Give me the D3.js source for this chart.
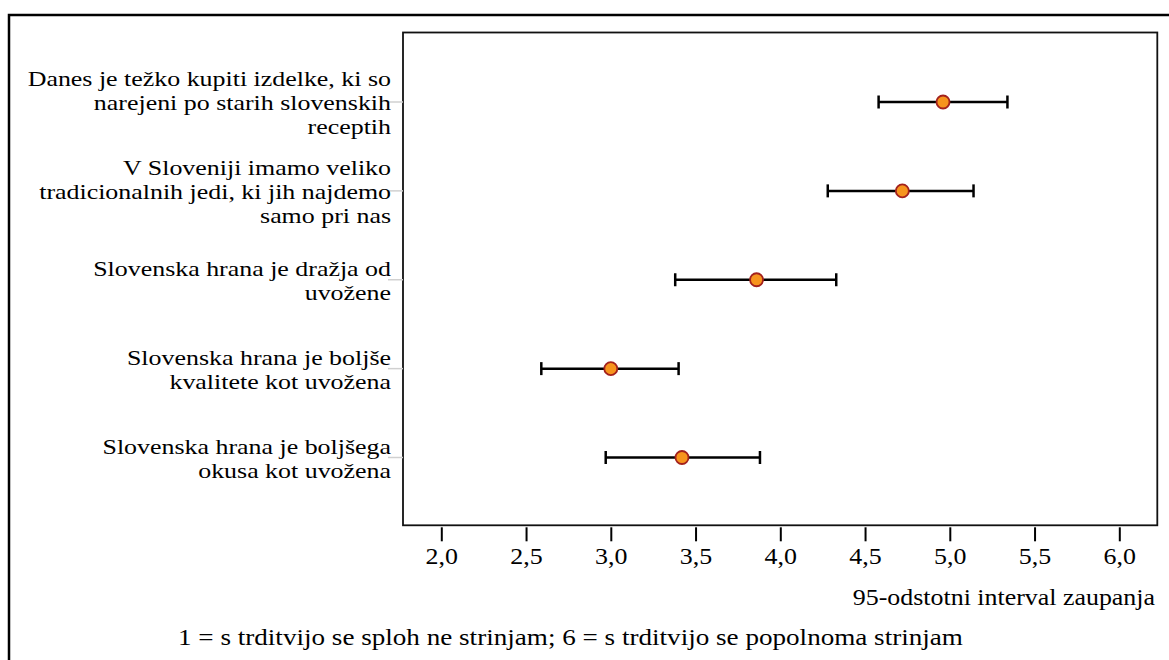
<!DOCTYPE html>
<html>
<head>
<meta charset="utf-8">
<script src="https://cdn.jsdelivr.net/npm/d3@7"></script>
<style>
  html, body { margin: 0; padding: 0; background: #fff; }
  svg { display: block; }
  text { font-family: "Liberation Serif", "Times New Roman", serif; fill: #000; }
</style>
</head>
<body>
<svg id="chart" width="1169" height="660"></svg>
<script>
// ---- data ----
const categories = [
  "Danes je težko kupiti izdelke, ki so narejeni po starih slovenskih receptih",
  "V Sloveniji imamo veliko tradicionalnih jedi, ki jih najdemo samo pri nas",
  "Slovenska hrana je dražja od uvožene",
  "Slovenska hrana je boljše kvalitete kot uvožena",
  "Slovenska hrana je boljšega okusa kot uvožena"
];
const labelLines = [
  ["Danes je težko kupiti izdelke, ki so", "narejeni po starih slovenskih", "receptih"],
  ["V Sloveniji imamo veliko", "tradicionalnih jedi, ki jih najdemo", "samo pri nas"],
  ["Slovenska hrana je dražja od", "uvožene"],
  ["Slovenska hrana je boljše", "kvalitete kot uvožena"],
  ["Slovenska hrana je boljšega", "okusa kot uvožena"]
];
const means = [4.96, 4.72, 3.86, 3.00, 3.42];
const lower = [4.58, 4.28, 3.38, 2.59, 2.97];
const upper = [5.34, 5.14, 4.33, 3.40, 3.88];
const tickValues = [2.0, 2.5, 3.0, 3.5, 4.0, 4.5, 5.0, 5.5, 6.0];
const tickLabels = ["2,0", "2,5", "3,0", "3,5", "4,0", "4,5", "5,0", "5,5", "6,0"];
const axisTitle = "95-odstotni interval zaupanja";
const footnote = "1 = s trditvijo se sploh ne strinjam; 6 = s trditvijo se popolnoma strinjam";

// ---- layout ----
const svg = d3.select("#chart");
const frame = { left: 403, top: 32.5, right: 1157.3, bottom: 525.3 };
const FS = 24, SX = 1.08;
const LFS = 21, LSX = 1.234;

const x = d3.scaleLinear().domain([2, 6]).range([441.3, 1119.3]);
const y = d3.scalePoint().domain(categories).range([102, 457.5]);

// outer border
svg.append("rect")
  .attr("x", 9).attr("y", 15).attr("width", 1300).attr("height", 800)
  .attr("fill", "none").attr("stroke", "#000").attr("stroke-width", 2.5);

// plot frame
svg.append("rect")
  .attr("x", frame.left).attr("y", frame.top)
  .attr("width", frame.right - frame.left).attr("height", frame.bottom - frame.top)
  .attr("fill", "none").attr("stroke", "#111").attr("stroke-width", 1.8);

// category ticks (light gray)
svg.append("g").selectAll("line").data(categories).join("line")
  .attr("x1", frame.left - 15).attr("x2", frame.left)
  .attr("y1", d => y(d)).attr("y2", d => y(d))
  .attr("stroke", "#d0d0d0").attr("stroke-width", 1.5);

// category labels
const lineH = 24;
const lab = svg.append("g");
categories.forEach((c, i) => {
  const lines = labelLines[i];
  const n = lines.length;
  lines.forEach((t, j) => {
    const yy = y(c) + (j - (n - 1) / 2) * lineH + 8;
    lab.append("text")
      .attr("transform", `translate(391,${yy}) scale(${LSX},1)`)
      .attr("text-anchor", "end")
      .attr("font-size", LFS)
      .text(t);
  });
});

// x axis
const axis = d3.axisBottom(x)
  .tickValues(tickValues)
  .tickFormat((d, i) => tickLabels[i])
  .tickSize(14).tickPadding(6);
const gx = svg.append("g").attr("transform", `translate(0,${frame.bottom + 2})`).call(axis);
gx.select(".domain").remove();
gx.selectAll(".tick line").attr("stroke", "#000").attr("stroke-width", 2);
gx.selectAll(".tick text")
  .attr("font-family", "Liberation Serif, serif")
  .attr("font-size", FS)
  .attr("y", 37).attr("dy", null)
  .attr("transform", `scale(${SX},1)`);

// axis title
svg.append("text")
  .attr("transform", `translate(1155,605) scale(${SX},1)`)
  .attr("text-anchor", "end").attr("font-size", FS)
  .text(axisTitle);

// footnote
svg.append("text")
  .attr("transform", `translate(178,645) scale(1.13,1)`)
  .attr("text-anchor", "start").attr("font-size", FS)
  .text(footnote);

// error bars
const rows = categories.map((c, i) => ({ c, m: means[i], lo: lower[i], hi: upper[i] }));
const eb = svg.append("g");
eb.selectAll("line.bar").data(rows).join("line").attr("class", "bar")
  .attr("x1", d => x(d.lo)).attr("x2", d => x(d.hi))
  .attr("y1", d => y(d.c)).attr("y2", d => y(d.c))
  .attr("stroke", "#000").attr("stroke-width", 2.5);
["lo", "hi"].forEach(k => {
  eb.selectAll("line.cap-" + k).data(rows).join("line").attr("class", "cap-" + k)
    .attr("x1", d => x(d[k])).attr("x2", d => x(d[k]))
    .attr("y1", d => y(d.c) - 6.5).attr("y2", d => y(d.c) + 6.5)
    .attr("stroke", "#000").attr("stroke-width", 2.5);
});
eb.selectAll("circle").data(rows).join("circle")
  .attr("cx", d => x(d.m)).attr("cy", d => y(d.c)).attr("r", 6.5)
  .attr("fill", "#f7941d").attr("stroke", "#a3211d").attr("stroke-width", 1.8);
</script>
</body>
</html>
